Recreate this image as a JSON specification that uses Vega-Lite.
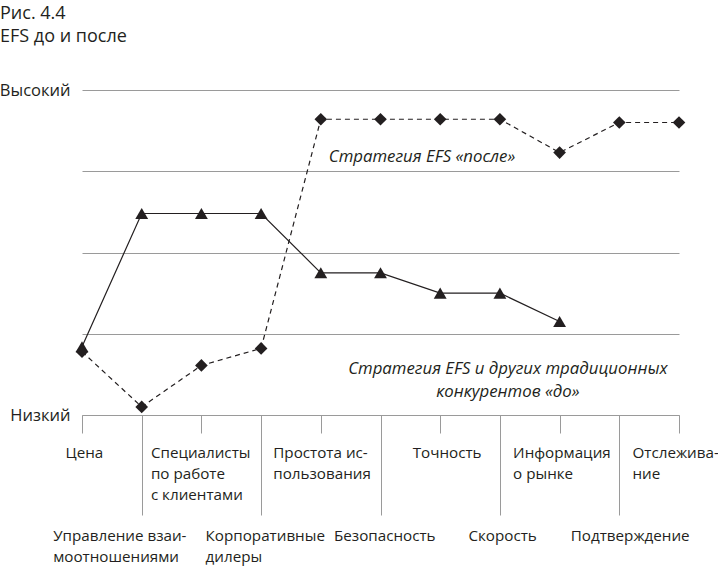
{
  "$schema": "https://vega.github.io/schema/vega-lite/v6.json",
  "width": 597,
  "height": 325,
  "autosize": {"type": "none"},
  "padding": {"left": 82, "top": 90, "right": 39, "bottom": 151},
  "background": "white",
  "title": {
    "text": ["Рис. 4.4", "EFS до и после"],
    "anchor": "start",
    "frame": "group",
    "dx": -82,
    "offset": 36,
    "fontSize": 18,
    "fontWeight": "normal",
    "font": "Open Sans",
    "color": "#231f20",
    "lineHeight": 23
  },
  "config": {
    "view": {"stroke": null},
    "font": "Open Sans",
    "axis": {"labelFont": "Open Sans", "labelColor": "#231f20", "labelFontSize": 15.2}
  },
  "datasets": {
    "scores": [
      {"series": "до", "criterion": "Цена", "score": 0.84},
      {"series": "до", "criterion": "Управление взаимоотношениями", "score": 2.48},
      {"series": "до", "criterion": "Специалисты по работе с клиентами", "score": 2.48},
      {"series": "до", "criterion": "Корпоративные дилеры", "score": 2.48},
      {"series": "до", "criterion": "Простота использования", "score": 1.75},
      {"series": "до", "criterion": "Безопасность", "score": 1.75},
      {"series": "до", "criterion": "Точность", "score": 1.5},
      {"series": "до", "criterion": "Скорость", "score": 1.5},
      {"series": "до", "criterion": "Информация о рынке", "score": 1.15},
      {"series": "после", "criterion": "Цена", "score": 0.78},
      {"series": "после", "criterion": "Управление взаимоотношениями", "score": 0.1},
      {"series": "после", "criterion": "Специалисты по работе с клиентами", "score": 0.61},
      {"series": "после", "criterion": "Корпоративные дилеры", "score": 0.82},
      {"series": "после", "criterion": "Простота использования", "score": 3.64},
      {"series": "после", "criterion": "Безопасность", "score": 3.64},
      {"series": "после", "criterion": "Точность", "score": 3.64},
      {"series": "после", "criterion": "Скорость", "score": 3.64},
      {"series": "после", "criterion": "Информация о рынке", "score": 3.23},
      {"series": "после", "criterion": "Подтверждение", "score": 3.6},
      {"series": "после", "criterion": "Отслеживание", "score": 3.6}
    ],
    "notes": [
      {"note": "Стратегия EFS «после»", "criterion": "Простота использования", "score": 3.175, "pos": "left"},
      {"note": "Стратегия EFS и других традиционных\nконкурентов «до»", "criterion": "Скорость", "score": 0.572, "pos": "center"}
    ]
  },
  "encoding": {
    "x": {
      "field": "criterion",
      "type": "nominal",
      "scale": {
        "type": "point",
        "padding": 0,
        "domain": ["Цена", "Управление взаимоотношениями", "Специалисты по работе с клиентами", "Корпоративные дилеры", "Простота использования", "Безопасность", "Точность", "Скорость", "Информация о рынке", "Подтверждение", "Отслеживание"]
      },
      "axis": {
        "title": null,
        "labelAngle": 0,
        "labelAlign": "left",
        "labelBaseline": "top",
        "labelOverlap": false,
        "labelLimit": 0,
        "labelLineHeight": 21,
        "domainColor": "#9a9a9a",
        "tickColor": "#9a9a9a",
        "tickWidth": 1,
        "domainWidth": 1,
        "grid": false,
        "tickSize": {
          "condition": {"test": "indexof(['Управление взаимоотношениями','Корпоративные дилеры','Безопасность','Скорость','Подтверждение'], datum.value) >= 0", "value": 100},
          "value": 18
        },
        "labelPadding": {
          "condition": {"test": "indexof(['Управление взаимоотношениями','Корпоративные дилеры','Безопасность','Скорость','Подтверждение'], datum.value) >= 0", "value": 13},
          "value": 12
        },
        "labelOffset": {
          "condition": [
            {"test": "datum.value == 'Цена'", "value": -17},
            {"test": "datum.value == 'Управление взаимоотношениями'", "value": -89},
            {"test": "datum.value == 'Специалисты по работе с клиентами'", "value": -51},
            {"test": "datum.value == 'Корпоративные дилеры'", "value": -56},
            {"test": "datum.value == 'Простота использования'", "value": -48},
            {"test": "datum.value == 'Безопасность'", "value": -47},
            {"test": "datum.value == 'Точность'", "value": -28},
            {"test": "datum.value == 'Скорость'", "value": -32},
            {"test": "datum.value == 'Информация о рынке'", "value": -47},
            {"test": "datum.value == 'Подтверждение'", "value": -49}
          ],
          "value": -47
        },
        "labelExpr": "datum.value == 'Управление взаимоотношениями' ? ['Управление взаи-', 'моотношениями'] : datum.value == 'Специалисты по работе с клиентами' ? ['Специалисты', 'по работе', 'с клиентами'] : datum.value == 'Корпоративные дилеры' ? ['Корпоративные', 'дилеры'] : datum.value == 'Простота использования' ? ['Простота ис-', 'пользования'] : datum.value == 'Информация о рынке' ? ['Информация', 'о рынке'] : datum.value == 'Отслеживание' ? ['Отслежива-', 'ние'] : datum.label"
      }
    },
    "y": {
      "field": "score",
      "type": "quantitative",
      "scale": {"domain": [0, 4], "nice": false, "zero": false},
      "axis": {
        "title": null,
        "values": [0, 1, 2, 3, 4],
        "grid": true,
        "gridColor": "#9a9a9a",
        "gridWidth": 1,
        "gridOpacity": 1,
        "domain": false,
        "ticks": false,
        "labelPadding": 12,
        "labelFontSize": 16.5,
        "labelExpr": "datum.value == 4 ? 'Высокий' : datum.value == 0 ? 'Низкий' : ''"
      }
    }
  },
  "layer": [
    {
      "data": {"name": "scores"},
      "transform": [{"filter": "datum.series == 'до'"}],
      "mark": {"type": "line", "color": "#231f20", "strokeWidth": 1.2, "point": {"shape": "triangle-up", "size": 165, "filled": true, "color": "#231f20", "opacity": 1}}
    },
    {
      "data": {"name": "scores"},
      "transform": [{"filter": "datum.series == 'после'"}],
      "mark": {"type": "line", "color": "#231f20", "strokeWidth": 1.2, "strokeDash": [5, 4], "point": {"shape": "diamond", "size": 160, "filled": true, "color": "#231f20", "opacity": 1}}
    },
    {
      "data": {"name": "notes"},
      "transform": [{"filter": "datum.pos == 'left'"}],
      "mark": {"type": "text", "align": "left", "baseline": "middle", "dx": 8, "font": "Open Sans", "fontStyle": "italic", "fontSize": 16.8, "color": "#231f20"},
      "encoding": {"text": {"field": "note"}}
    },
    {
      "data": {"name": "notes"},
      "transform": [{"filter": "datum.pos == 'center'"}],
      "mark": {"type": "text", "align": "center", "baseline": "middle", "dx": 8, "lineBreak": "\n", "lineHeight": 23, "font": "Open Sans", "fontStyle": "italic", "fontSize": 16.8, "color": "#231f20"},
      "encoding": {"text": {"field": "note"}}
    }
  ]
}
